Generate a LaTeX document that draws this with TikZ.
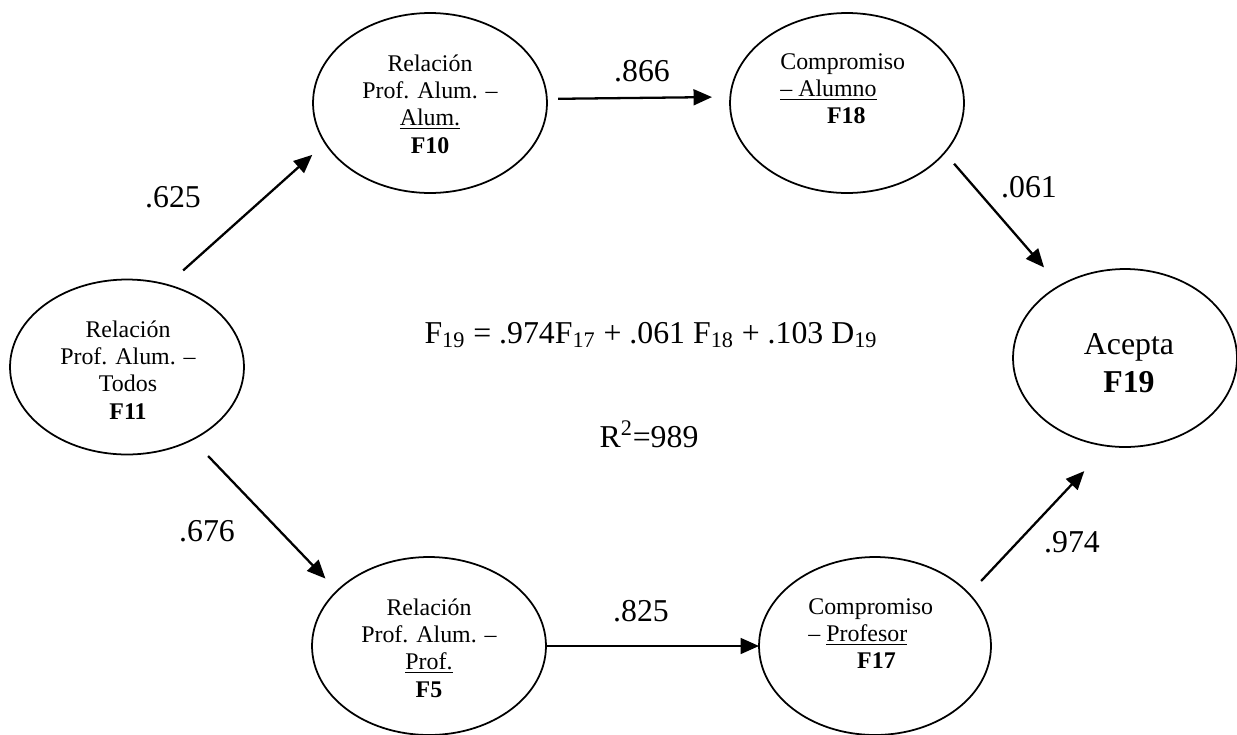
\documentclass[tikz,border=0pt]{standalone}
\usepackage{fontspec}
\setmainfont{Liberation Serif}
\usetikzlibrary{arrows.meta,shapes.geometric}
\begin{document}
\begin{tikzpicture}[x=0.02cm,y=-0.02cm,
  factor/.style={draw, ellipse, line width=1pt, inner sep=0pt, outer sep=0pt,
                 minimum width=4.68cm, minimum height=3.56cm},
  small/.style={inner sep=0pt, align=center, font=\fontsize{13.6}{15.5}\selectfont},
  smallleft/.style={inner sep=0pt, align=left, anchor=north west, font=\fontsize{13.6}{15.5}\selectfont},
  big/.style={inner sep=0pt, align=center, font=\fontsize{18.1}{22}\selectfont},
  coef/.style={inner sep=0pt, font=\fontsize{18.1}{21}\selectfont},
  path/.style={line width=1.3pt, -{Triangle[length=10.5pt,width=9pt]}}
]
% canvas
\fill[white] (0,0) rectangle (1237,734);
\useasboundingbox (0,0) rectangle (1237,734);

% latent factors
\node[factor, minimum height=3.5cm] (F11) at (127,367) {};
\node[factor, minimum height=3.6cm] (F10) at (430,103) {};
\node[factor, minimum height=3.6cm] (F18) at (847,103) {};
\node[factor] (F5)  at (429,646) {};
\node[factor, minimum width=4.64cm] (F17) at (875,646) {};
\node[factor, minimum width=4.48cm] (F19) at (1125,358) {};

% factor labels
\node[small] (tF11) at (128,370) {Relación\\Prof. Alum. –\\Todos\\\textbf{F11}};
\node[small] (tF10) at (430,104) {Relación\\Prof. Alum. –\\\underline{Alum.}\\\textbf{F10}};
\node[small] (tF5)  at (429,648) {Relación\\Prof. Alum. –\\\underline{Prof.}\\\textbf{F5}};
\node[smallleft] (tF18) at (780,53) {Compromiso\\\underline{– Alumno}\\\hspace*{26.6pt}\textbf{F18}};
\node[smallleft] (tF17) at (808,598) {Compromiso\\– \underline{Profesor}\\\hspace*{27.8pt}\textbf{F17}};
\node[big] (tF19) at (1129,363) {Acepta\\\textbf{F19}};

% structural paths
\draw[path, shorten <=0.432cm, shorten >=0.35cm]  (F11.64.3)   -- (F10.201.8);
\draw[path, shorten <=0.226cm, shorten >=0.366cm] (F10.2.94)   -- (F18.177.06);
\draw[path, shorten <=0.456cm, shorten >=0.34cm]  (F11.-48.93) -- (F5.149.27);
\draw[path] (F5.east) -- (F17.west);
\draw[path, shorten <=0.292cm, shorten >=0.482cm] (F18.-27.89) -- (F19.132.63);
\draw[path, shorten <=0.354cm, shorten >=0.69cm]  (F17.29.56)  -- (F19.259.57);

% path coefficients
\node[coef] (c625) at (173,197) {.625};
\node[coef] (c866) at (642,71)  {.866};
\node[coef] (c676) at (207,531) {.676};
\node[coef] (c825) at (641,611) {.825};
\node[coef] (c061) at (1029,187) {.061};
\node[coef] (c974) at (1072,542) {.974};

% structural equation
\node[coef, anchor=base] (eq) at (651,343)
  {F\textsubscript{19} = .974F\textsubscript{17} + .061 F\textsubscript{18} + .103 D\textsubscript{19}};
\node[coef, anchor=base] (r2) at (649,447) {R\textsuperscript{2}=989};
\end{tikzpicture}
\end{document}
